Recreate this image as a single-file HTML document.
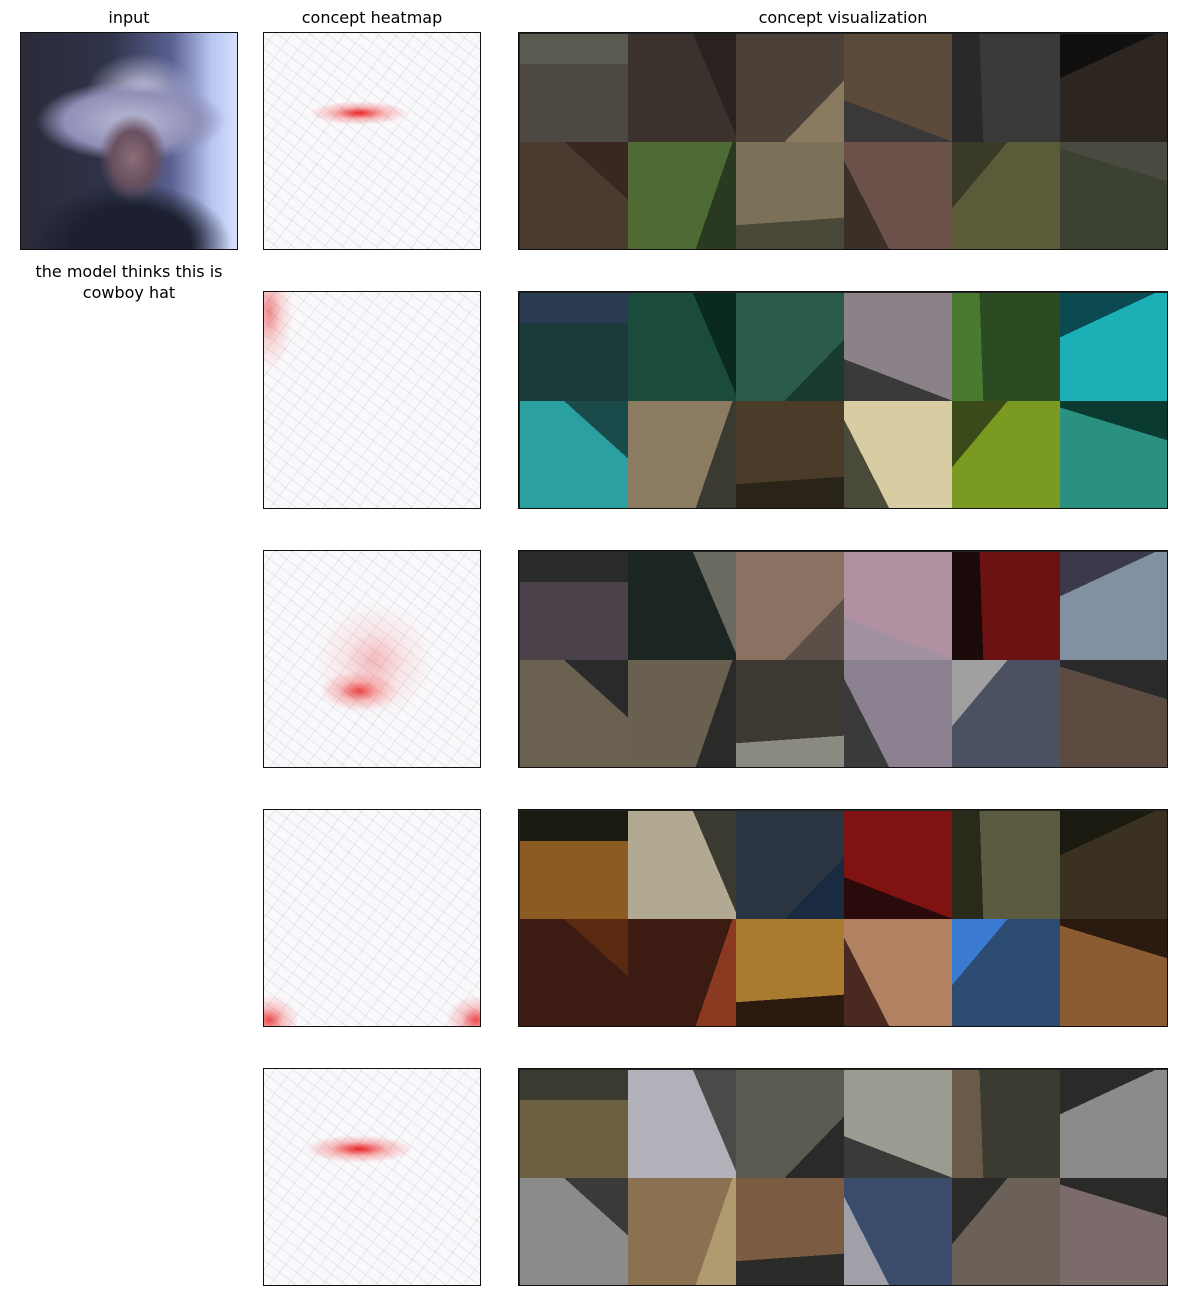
<!DOCTYPE html>
<html><head><meta charset="utf-8">
<style>
html,body{margin:0;padding:0;background:#fff;}
body{width:1200px;height:1300px;position:relative;overflow:hidden;font-family:"DejaVu Sans","Liberation Sans",sans-serif;}
.t{position:absolute;font-size:16px;color:#000;text-align:center;white-space:nowrap;}
.box{position:absolute;box-sizing:border-box;border:1.5px solid #111;overflow:hidden;}
.heat{background-color:#f9f9fc;}
.tile{position:absolute;width:108px;height:108px;}
</style></head><body>
<div class="t" style="left:29px;top:8px;width:200px;">input</div>
<div class="t" style="left:272px;top:8px;width:200px;">concept heatmap</div>
<div class="t" style="left:643px;top:8px;width:400px;">concept visualization</div>

<div class="box" style="left:20px;top:32px;width:218px;height:218px;
background:
radial-gradient(ellipse 34px 44px at 112px 125px,#8a6e78 0%,#6a5060 60%,transparent 100%),
radial-gradient(ellipse 95px 40px at 110px 88px,#b8b8d4 0%,#9090b8 70%,transparent 100%),
radial-gradient(ellipse 55px 40px at 120px 60px,#d0d0e8 0%,transparent 100%),
radial-gradient(ellipse 100px 60px at 110px 210px,#1c2030 0%,#1c2030 60%,transparent 100%),
linear-gradient(90deg,#2a2a3a 0,#30344a 90px,#5a6090 150px,#b8c4f0 190px,#d8e0ff 218px);"></div>

<div class="t" style="left:9px;top:261px;width:240px;line-height:21px;">the model thinks this is<br>cowboy hat</div>

<div id="root"></div>
<script>
const rowTops=[32,291,550,809,1068];
const heatBlobs=[
 [[95,80,50,12,0.85]],
 [[5,20,25,60,0.45]],
 [[95,140,40,20,0.7],[110,110,60,60,0.25]],
 [[5,210,30,25,0.7],[212,210,30,25,0.7]],
 [[95,80,55,14,0.85]]
];
const tileColors=[
 ["#4d4842","#3c322d","#4b4139","#5c4b3a","#3b3a3a","#2c2520","#4a3b31","#4d6b33","#7b7159","#6b5149","#5b5a39","#3b4231"],
 ["#1b3b3a","#1b4c3b","#2b5b49","#8b8189","#2b4b22","#1bafb6","#2aa0a0","#8b7b61","#4b3b29","#d8cca2","#7a9a22","#2a9080"],
 ["#4b414a","#1b2521","#8b7161","#b091a1","#6b1212","#8191a1","#6b6151","#6a6050","#3b3931","#8b8191","#4b5161","#5b4b41"],
 ["#8b5b22","#b1a991","#2b3541","#811212","#5b5b41","#3b3121","#3b1b12","#3b1b12","#a97b31","#b18161","#2b4b71","#8b5b31"],
 ["#6b6141","#b1b1b9","#5b5b51","#9b9b91","#3b3b31","#8b8b89","#8b8b89","#8b7151","#7b5b41","#3b4b6b","#6b6159","#7b6b6b"]
];
const tileAccent=[
 ["#5a5a50","#2a2220","#8a7a60","#3a3838","#2a2828","#101010","#3a2820","#2a3a20","#4a4838","#3a3028","#3a3a28","#4a4a40"],
 ["#2a3a50","#0a2a20","#1a3a30","#3a3a3a","#4a7a30","#0a4a50","#1a4a4a","#3a3a30","#2a2418","#4a4a3a","#3a4a18","#0a3a30"],
 ["#2a2a2a","#6a6a60","#5a5048","#a090a0","#1a0a0a","#3a3a4a","#2a2a2a","#2a2a28","#8a8a80","#3a3a3a","#a0a0a0","#2a2a2a"],
 ["#1a1a10","#3a3a30","#1a2a40","#2a0a0a","#2a2a1a","#1a1a10","#5a2a10","#8a3a20","#2a1a10","#4a2a20","#3a7ad0","#2a1a10"],
 ["#3a3a30","#4a4a48","#2a2a28","#3a3a38","#6a5a48","#2a2a28","#3a3a38","#b09a70","#2a2a28","#a0a0a8","#2a2a28","#2a2a28"]
];
const root=document.getElementById('root');
rowTops.forEach((top,r)=>{
  const h=document.createElement('div');
  h.className='box heat';
  
  
  h.style.left='263px';h.style.top=top+'px';h.style.width='218px';h.style.height='218px';
  let bg=heatBlobs[r].map(b=>`radial-gradient(ellipse ${b[2]}px ${b[3]}px at ${b[0]}px ${b[1]}px, rgba(230,0,0,${b[4]}) 0%, rgba(240,60,60,${b[4]*0.4}) 50%, transparent 100%)`);
  bg.push('repeating-linear-gradient(37deg, transparent 0 9px, rgba(120,120,130,0.14) 9px 10px)');
  bg.push('repeating-linear-gradient(-53deg, transparent 0 13px, rgba(120,120,130,0.12) 13px 14px)');
  h.style.background=bg.join(',')+',#f9f9fc';
  root.appendChild(h);
  const v=document.createElement('div');
  v.className='box';
  
  
  v.style.left='518px';v.style.top=top+'px';v.style.width='650px';v.style.height='218px';v.style.background='#222';
  tileColors[r].forEach((c,i)=>{
    const t=document.createElement('div');
    t.className='tile';
    
    
    t.style.left=(1+(i%6)*108)+'px';t.style.top=(1+Math.floor(i/6)*108)+'px';
    const a=tileAccent[r][i];
    t.style.background=`linear-gradient(${(i*67)%360}deg, ${c} 0%, ${c} 72%, ${a} 72%, ${a} 100%)`;
    v.appendChild(t);
  });
  root.appendChild(v);
});
</script>
</body></html>
